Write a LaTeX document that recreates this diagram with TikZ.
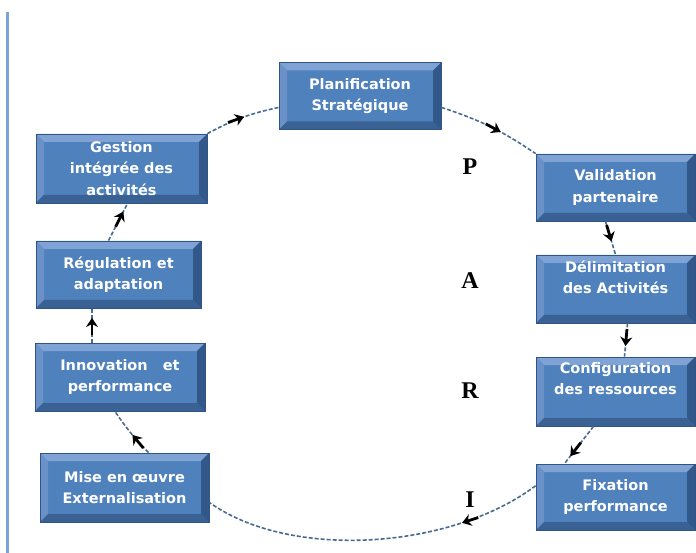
\documentclass[tikz,border=0pt]{standalone}
\usepackage{fontspec}
\setmainfont{Liberation Serif}
\newfontfamily\boxfont{DejaVu Sans}
\usetikzlibrary{arrows.meta,decorations.markings}

\definecolor{boxfill}{HTML}{4F81BD}
\definecolor{boxedge}{HTML}{2F5485}
\definecolor{bevtop}{HTML}{7FA3D4}
\definecolor{bevleft}{HTML}{6A92C8}
\definecolor{bevbot}{HTML}{3A6193}
\definecolor{bevright}{HTML}{32588A}
\definecolor{linkcol}{HTML}{4A6A94}
\definecolor{sidecol}{HTML}{7BA3D6}

\tikzset{
  bevelbox/.style={draw=boxedge, line width=0.8pt, fill=boxfill, minimum width=#1, minimum height=67pt,
    inner sep=0pt, align=center, text=white, font=\boxfont\bfseries\fontsize{14.5}{21.5}\selectfont,
    path picture={
      \fill[bevtop] (path picture bounding box.north west) -- (path picture bounding box.north east)
        -- ++(-8pt,-8pt) -- ([shift={(8pt,-8pt)}]path picture bounding box.north west) -- cycle;
      \fill[bevleft] (path picture bounding box.north west) -- (path picture bounding box.south west)
        -- ++(8pt,8pt) -- ([shift={(8pt,-8pt)}]path picture bounding box.north west) -- cycle;
      \fill[bevbot] (path picture bounding box.south west) -- (path picture bounding box.south east)
        -- ++(-8pt,8pt) -- ([shift={(8pt,8pt)}]path picture bounding box.south west) -- cycle;
      \fill[bevright] (path picture bounding box.north east) -- (path picture bounding box.south east)
        -- ++(-8pt,8pt) -- ([shift={(-8pt,-8pt)}]path picture bounding box.north east) -- cycle;
    }},
  letter/.style={font=\bfseries\fontsize{24}{24}\selectfont, inner sep=0pt},
  link/.style={draw=linkcol, line width=1.6pt, dash pattern=on 4pt off 2pt},
  midarrow/.style={postaction={decorate}, decoration={markings, mark=at position #1 with
    {\draw[black, solid, line width=2.8pt, -{Stealth[length=9pt,width=12pt]}] (-17pt,0) -- (0pt,0);}}},
}

\begin{document}
\begin{tikzpicture}[x=1pt, y=-1pt]
  \useasboundingbox (0,0) rectangle (696,553);
  \draw[sidecol, line width=2.5pt] (7.5,12) -- (7.5,553);

  % boxes of the cycle
  \node[bevelbox=162pt] (plan) at (360,96) {Planification\\Stratégique};
  \node[bevelbox=159pt] (valid) at (615.5,187.5) {Validation\\partenaire};
  \node[bevelbox=159pt, minimum height=68pt, text depth=24pt] (delim) at (615.5,289) {Délimitation\\des Activités};
  \node[bevelbox=159pt, minimum height=69pt, text depth=26pt] (config) at (615.5,391.5) {Configuration\\des ressources};
  \node[bevelbox=159pt, minimum height=66pt] (fix) at (615.5,497) {Fixation\\performance};
  \node[bevelbox=169pt, minimum height=69pt] (mise) at (124.5,487.5) {Mise en œuvre\\Externalisation};
  \node[bevelbox=170pt, minimum height=68pt] (innov) at (120,377) {Innovation~~ et\\performance};
  \node[bevelbox=165pt] (regul) at (118.5,274.5) {Régulation et\\adaptation};
  \node[bevelbox=171pt, minimum height=69pt] (gest) at (121.5,168.5) {Gestion\\intégrée des\\activités};

  % letters
  \node[letter] (lp) at (470,167) {P};
  \node[letter] (la) at (470,281) {A};
  \node[letter] (lr) at (470,391) {R};
  \node[letter] (li) at (470,500) {I};

  % connectors
  \draw[link, midarrow=0.53] (gest.north east) to[bend left=8] (plan.188);
  \draw[link, midarrow=0.61] (plan.352) to[bend left=8] (valid.north west);
  \draw[link, midarrow=0.6] ([xshift=-10pt]valid.south) -- (delim.north);
  \draw[link, midarrow=0.68] ([xshift=12pt]delim.south) -- ([xshift=9pt]config.north);
  \draw[link, midarrow=0.8] ([xshift=-22pt]config.south) -- ([xshift=-51pt]fix.north);
  \draw[link, midarrow=0.24] (fix.172) .. controls (450,550) and (290,560) .. (mise.350);
  \draw[link, midarrow=0.45] ([xshift=24pt]mise.north) to[bend left=5] ([xshift=-5pt]innov.south);
  \draw[link, midarrow=0.72] ([xshift=-28pt]innov.north) -- ([xshift=-26.5pt]regul.south);
  \draw[link, midarrow=0.78] ([xshift=-10pt]regul.north) -- ([xshift=6pt]gest.south);
\end{tikzpicture}
\end{document}
